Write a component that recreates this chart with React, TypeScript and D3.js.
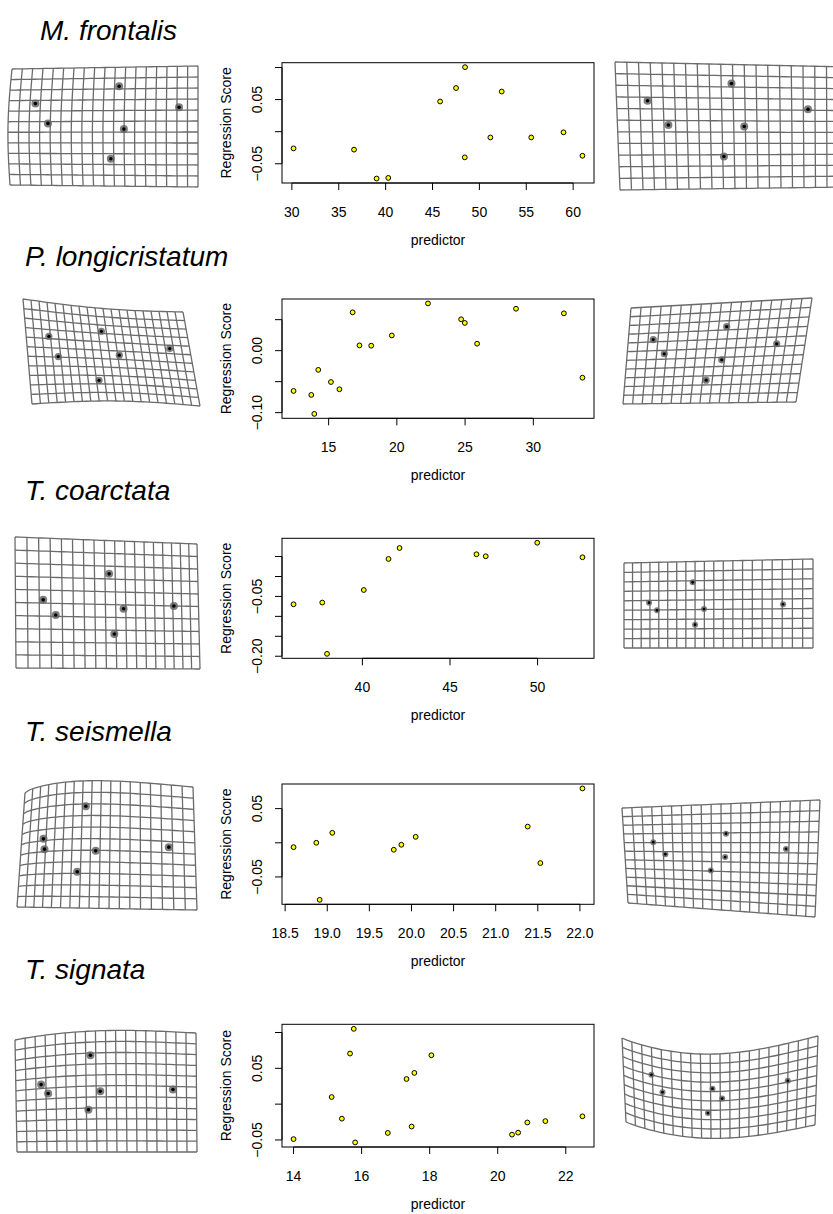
import React from 'react'
import * as d3 from 'd3'

// species titles
const titles = ['M. frontalis', 'P. longicristatum', 'T. coarctata', 'T. seismella', 'T. signata']

// predictor / regression score per species
const frontalisX = [30.18, 36.63, 39.04, 40.28, 45.81, 47.51, 48.47, 48.44, 52.38, 51.17, 55.53, 58.97, 60.99]
const frontalisY = [-0.026, -0.028, -0.073, -0.072, 0.047, 0.068, 0.1005, -0.04, 0.0625, -0.009, -0.009, -0.001, -0.0375]

const longicristatumX = [12.43, 13.73, 13.95, 14.24, 15.17, 15.79, 16.76, 17.26, 18.12, 19.63, 22.28, 24.71, 24.98, 25.88, 28.73, 32.24, 33.6]
const longicristatumY = [-0.065, -0.0714, -0.102, -0.031, -0.0506, -0.0623, 0.0618, 0.0085, 0.008, 0.0245, 0.0762, 0.0506, 0.0447, 0.0112, 0.0676, 0.0602, -0.0436]

const coarctataX = [36.07, 37.71, 37.98, 40.08, 41.49, 42.12, 46.51, 47.04, 49.98, 52.56]
const coarctataY = [-0.0697, -0.0654, -0.194, -0.0339, 0.044, 0.0714, 0.0557, 0.0507, 0.0846, 0.0482]

const seismellaX = [18.6, 18.87, 18.91, 19.06, 19.79, 19.88, 20.05, 21.38, 21.53, 22.03]
const seismellaY = [-0.0064, 0.0, -0.0835, 0.0146, -0.0102, -0.0029, 0.0087, 0.0237, -0.0297, 0.0795]

const signataX = [14.0, 15.12, 15.42, 15.66, 15.77, 15.81, 16.77, 17.32, 17.55, 17.47, 18.05, 20.42, 20.6, 20.87, 21.4, 22.49]
const signataY = [-0.0488, 0.0099, -0.0203, 0.0706, 0.1051, -0.0535, -0.0402, 0.0351, 0.0436, -0.0313, 0.0682, -0.0426, -0.0398, -0.0256, -0.0237, -0.017]

// tick values and labels (R drops overlapping y labels)
const xTicks = [
  [30, 35, 40, 45, 50, 55, 60],
  [15, 20, 25, 30],
  [40, 45, 50],
  [18.5, 19.0, 19.5, 20.0, 20.5, 21.0, 21.5, 22.0],
  [14, 16, 18, 20, 22],
]
const xTickLabels = [
  ['30', '35', '40', '45', '50', '55', '60'],
  ['15', '20', '25', '30'],
  ['40', '45', '50'],
  ['18.5', '19.0', '19.5', '20.0', '20.5', '21.0', '21.5', '22.0'],
  ['14', '16', '18', '20', '22'],
]
const yTicks = [
  [-0.05, 0, 0.05, 0.1],
  [-0.1, -0.05, 0, 0.05],
  [-0.2, -0.15, -0.1, -0.05, 0, 0.05],
  [-0.05, 0, 0.05],
  [-0.05, 0, 0.05, 0.1],
]
const yTickLabels = [
  ['−0.05', '', '0.05', ''],
  ['−0.10', '', '0.00', ''],
  ['−0.20', '', '', '−0.05', '', ''],
  ['−0.05', '', '0.05'],
  ['−0.05', '', '0.05', ''],
]

// landmark positions in grid coordinates (u across, v down)
const frontalisMin = [[0.14, 0.3], [0.21, 0.47], [0.58, 0.16], [0.61, 0.52], [0.54, 0.77], [0.9, 0.34]]
const frontalisMax = [[0.133, 0.3], [0.219, 0.49], [0.494, 0.153], [0.545, 0.5], [0.455, 0.742], [0.82, 0.355]]
const longiMin = [[0.14, 0.34], [0.185, 0.54], [0.47, 0.25], [0.56, 0.5], [0.415, 0.78], [0.877, 0.4]]
const longiMax = [[0.14, 0.34], [0.21, 0.49], [0.545, 0.24], [0.54, 0.57], [0.465, 0.77], [0.84, 0.43]]
const coarcMin = [[0.13, 0.475], [0.19, 0.59], [0.467, 0.26], [0.543, 0.53], [0.49, 0.73], [0.84, 0.5]]
const coarcMax = [[0.145, 0.47], [0.19, 0.56], [0.387, 0.24], [0.448, 0.55], [0.4, 0.73], [0.854, 0.505]]
const seisMin = [[0.41, 0.2], [0.15, 0.44], [0.16, 0.525], [0.475, 0.55], [0.37, 0.715], [0.87, 0.5]]
const seisMax = [[0.15, 0.36], [0.21, 0.48], [0.525, 0.28], [0.52, 0.5], [0.445, 0.63], [0.835, 0.42]]
const signMin = [[0.14, 0.42], [0.178, 0.5], [0.415, 0.2], [0.467, 0.5], [0.4, 0.65], [0.87, 0.48]]
const signMax = [[0.145, 0.33], [0.2, 0.51], [0.46, 0.41], [0.51, 0.53], [0.435, 0.7], [0.85, 0.43]]

type Pt = number[]
type GridSpec = {
  cols: number; rows: number; tl: Pt; tr: Pt; bl: Pt; br: Pt
  topBend?: number; botBend?: number; peak?: number; skew?: number; leftBend?: number; r: number
}

// layout of the deformation grids
const leftGrids: GridSpec[] = [
  { cols: 18, rows: 11, tl: [12, 69], tr: [198, 66], bl: [10, 185], br: [198, 187], leftBend: -3, r: 4 },
  { cols: 20, rows: 11, tl: [23, 299], tr: [183, 312], bl: [32, 404], br: [200, 406], topBend: 3, botBend: -4, r: 3.6 },
  { cols: 18, rows: 10, tl: [15, 537], tr: [197, 544], bl: [16, 668], br: [200, 669], skew: 0.19, r: 4 },
  { cols: 18, rows: 11, tl: [25, 793], tr: [193, 787], bl: [17, 907], br: [197, 910], topBend: -10, peak: 0.35, skew: -0.18, r: 4 },
  { cols: 18, rows: 11, tl: [15, 1040], tr: [196, 1033], bl: [17, 1152], br: [197, 1152], topBend: -6, peak: 0.45, r: 4 },
]
const rightGrids: GridSpec[] = [
  { cols: 20, rows: 11, tl: [615, 62], tr: [850, 67], bl: [620, 190], br: [850, 187], r: 4 },
  { cols: 18, rows: 11, tl: [631, 308], tr: [812, 298], bl: [623, 404], br: [796, 402], r: 3.6 },
  { cols: 20, rows: 9, tl: [624, 563], tr: [813, 559], bl: [624, 648], br: [813, 648], skew: -0.1, r: 3 },
  { cols: 20, rows: 11, tl: [622, 808], tr: [820, 800], bl: [628, 903], br: [815, 917], r: 3 },
  { cols: 20, rows: 9, tl: [622, 1038], tr: [818, 1036], bl: [626, 1122], br: [815, 1125], topBend: 17, botBend: 15, peak: 0.45, r: 3 },
]

const plotTop = [62.7, 299, 538.3, 784, 1024.3]
const plotBottom = [183, 418.3, 658.3, 904.3, 1147]
const titleY = [40, 266, 500, 741, 979]
const titleX = [40, 25, 25, 25, 25]
const LEFT = 282
const RIGHT = 594

const panels = [
  { title: titles[0], xs: frontalisX, ys: frontalisY, lmA: frontalisMin, lmB: frontalisMax },
  { title: titles[1], xs: longicristatumX, ys: longicristatumY, lmA: longiMin, lmB: longiMax },
  { title: titles[2], xs: coarctataX, ys: coarctataY, lmA: coarcMin, lmB: coarcMax },
  { title: titles[3], xs: seismellaX, ys: seismellaY, lmA: seisMin, lmB: seisMax },
  { title: titles[4], xs: signataX, ys: signataY, lmA: signMin, lmB: signMax },
]

const warp = (g: GridSpec) => {
  const p = Math.log(0.5) / Math.log(g.peak ?? 0.5)
  return (u: number, v: number): [number, number] => {
    const s = u + (g.skew ?? 0) * u * (1 - u)
    const tx = g.tl[0] + (g.tr[0] - g.tl[0]) * s
    const ty = g.tl[1] + (g.tr[1] - g.tl[1]) * s
    const bx = g.bl[0] + (g.br[0] - g.bl[0]) * s
    const by = g.bl[1] + (g.br[1] - g.bl[1]) * s
    const bump = Math.sin(Math.PI * Math.pow(s, p))
    const x = tx + (bx - tx) * v + (g.leftBend ?? 0) * Math.sin(Math.PI * v) * (1 - s)
    const y = ty + (by - ty) * v + ((g.topBend ?? 0) * (1 - v) + (g.botBend ?? 0) * v) * bump
    return [x, y]
  }
}

const Grid = ({ spec, marks }: { spec: GridSpec; marks: number[][] }) => {
  const w = warp(spec)
  const line = d3.line()
  const steps = 40
  const colPaths = d3.range(spec.cols + 1).map(i =>
    line(d3.range(steps + 1).map(k => w(i / spec.cols, k / steps))))
  const rowPaths = d3.range(spec.rows + 1).map(j =>
    line(d3.range(steps + 1).map(k => w(k / steps, j / spec.rows))))
  return (
    <g>
      {[...colPaths, ...rowPaths].map((d, i) => (
        <path key={i} d={d || ''} fill="none" stroke="#6b6b6b" strokeWidth={1.3} />
      ))}
      {marks.map(([u, v], i) => {
        const [x, y] = w(u, v)
        return (
          <g key={'m' + i}>
            <circle cx={x} cy={y} r={spec.r} fill="#666" fillOpacity={0.85} />
            <circle cx={x} cy={y} r={spec.r * 0.45} fill="#000" />
          </g>
        )
      })}
    </g>
  )
}

const pad = (ext: [number, number]) => {
  const d = (ext[1] - ext[0]) * 0.04
  return [ext[0] - d, ext[1] + d]
}

const Scatter = ({ k }: { k: number }) => {
  const { xs, ys } = panels[k]
  const top = plotTop[k]
  const bottom = plotBottom[k]
  const x = d3.scaleLinear().domain(pad(d3.extent(xs) as [number, number])).range([LEFT, RIGHT])
  const y = d3.scaleLinear().domain(pad(d3.extent(ys) as [number, number])).range([bottom, top])
  const xt = xTicks[k]
  const yt = yTicks[k]
  const mid = (top + bottom) / 2
  return (
    <g>
      <rect x={LEFT} y={top} width={RIGHT - LEFT} height={bottom - top} fill="none" stroke="#000" strokeWidth={1} />
      {/* x axis */}
      <line x1={x(xt[0])} x2={x(xt[xt.length - 1])} y1={bottom} y2={bottom} stroke="#000" />
      {xt.map((t, i) => (
        <g key={'x' + i}>
          <line x1={x(t)} x2={x(t)} y1={bottom} y2={bottom + 7} stroke="#000" />
          <text x={x(t)} y={bottom + 34} textAnchor="middle" fontSize={14}>{xTickLabels[k][i]}</text>
        </g>
      ))}
      {/* y axis */}
      <line x1={LEFT} x2={LEFT} y1={y(yt[0])} y2={y(yt[yt.length - 1])} stroke="#000" />
      {yt.map((t, i) => (
        <g key={'y' + i}>
          <line x1={LEFT - 7} x2={LEFT} y1={y(t)} y2={y(t)} stroke="#000" />
          {yTickLabels[k][i] && (
            <text x={262} y={y(t)} transform={`rotate(-90, 262, ${y(t)})`} textAnchor="middle" fontSize={14}>
              {yTickLabels[k][i]}
            </text>
          )}
        </g>
      ))}
      <text x={231} y={mid} transform={`rotate(-90, 231, ${mid})`} textAnchor="middle" fontSize={14}>Regression Score</text>
      <text x={(LEFT + RIGHT) / 2} y={bottom + 62} textAnchor="middle" fontSize={14}>predictor</text>
      {xs.map((d, i) => (
        <circle key={'p' + i} cx={x(d)} cy={y(ys[i])} r={2.4} fill="#ffff00" stroke="#000" strokeWidth={1} />
      ))}
    </g>
  )
}

const App = () => {
  return (
    <svg width={833} height={1214} style={{ position: 'absolute', left: 0, top: 0, background: '#fff' }}
      fontFamily="'Liberation Sans', Arial, Helvetica, sans-serif">
      {panels.map((p, k) => (
        <g key={k}>
          <text x={titleX[k]} y={titleY[k]} fontSize={28} fontStyle="italic">{p.title}</text>
          <Grid spec={leftGrids[k]} marks={p.lmA} />
          <Scatter k={k} />
          <Grid spec={rightGrids[k]} marks={p.lmB} />
        </g>
      ))}
    </svg>
  )
}

export default App
